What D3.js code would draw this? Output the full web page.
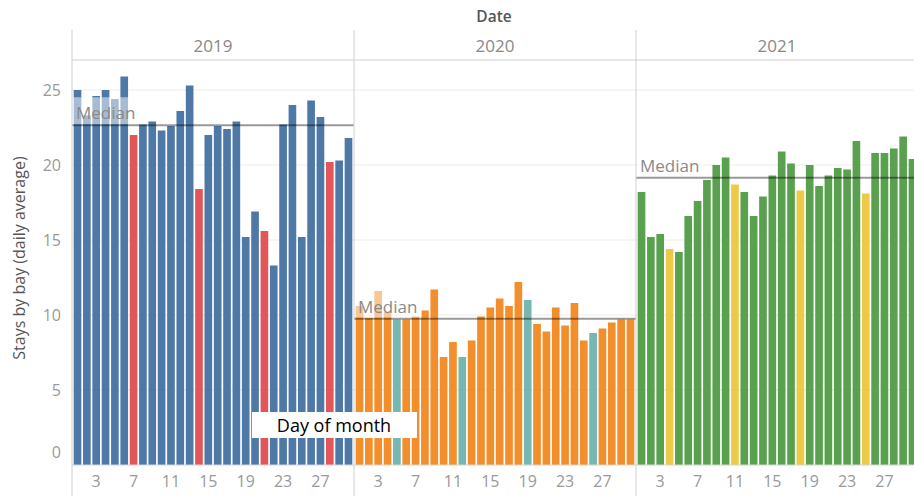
<!DOCTYPE html>
<html>
<head>
<meta charset="utf-8">
<script src="https://cdn.jsdelivr.net/npm/d3@7"></script>
<style>
  body { margin: 0; background: #fff; }
  svg { display: block; font-family: "Open Sans", Lato, sans-serif; }
</style>
</head>
<body>
<script>
// September, one panel per year, Saturdays highlighted
const years = ["2019", "2020", "2021"];
const days = d3.range(1, 31);
const saturdays2019 = [7, 14, 21, 28];
const saturdays2020 = [5, 12, 19, 26];
const saturdays2021 = [4, 11, 18, 25];

const stays2019 = [25.0, 23.3, 24.6, 25.0, 24.4, 25.9, 22.0, 22.7, 22.9, 22.3,
                   22.6, 23.6, 25.3, 18.4, 22.0, 22.6, 22.4, 22.9, 15.2, 16.9,
                   15.6, 13.3, 22.7, 24.0, 15.2, 24.3, 23.2, 20.2, 20.3, 21.8];
const stays2020 = [10.6, 9.8, 11.6, 10.2, 9.7, 9.7, 9.9, 10.3, 11.7, 7.2,
                   8.2, 7.2, 8.3, 9.9, 10.5, 11.1, 10.6, 12.2, 11.0, 9.4,
                   8.9, 10.5, 9.3, 10.8, 8.3, 8.8, 9.1, 9.5, 9.7, 9.7];
const stays2021 = [18.2, 15.2, 15.4, 14.4, 14.2, 16.6, 17.6, 19.0, 20.0, 20.5,
                   18.7, 18.2, 16.6, 17.9, 19.3, 20.9, 20.1, 18.3, 20.0, 18.6,
                   19.3, 19.8, 19.7, 21.6, 18.1, 20.8, 20.8, 21.1, 21.9, 20.4];

const baseColors = ["#4e79a7", "#f28e2b", "#59a14f"];
const satColors = ["#e15759", "#76b7b2", "#edc948"];
const yTicks = [0, 5, 10, 15, 20, 25];
const dayTicks = [3, 7, 11, 15, 19, 23, 27];

const panels = years.map((yr, i) => ({
  year: yr,
  values: [stays2019, stays2020, stays2021][i],
  sats: [saturdays2019, saturdays2020, saturdays2021][i],
  base: baseColors[i],
  sat: satColors[i]
}));

const width = 914, height = 496;
const plotLeft = 72, plotTop = 60, plotBottom = 465, panelW = 282;

const svg = d3.select("body").append("svg")
  .attr("width", width)
  .attr("height", height);

const xPanel = d3.scaleBand().domain(years).range([plotLeft, plotLeft + panelW * 3]);
const xDay = d3.scaleBand().domain(days).range([0, panelW]).padding(0.18);
const y = d3.scaleLinear().domain([0, 27]).range([plotBottom, plotTop]);

// gridlines
svg.append("g")
  .selectAll("line")
  .data(yTicks.filter(d => d > 0))
  .join("line")
    .attr("x1", plotLeft).attr("x2", width)
    .attr("y1", d => y(d)).attr("y2", d => y(d))
    .attr("stroke", "#ececec");

// bars
const panel = svg.selectAll("g.panel")
  .data(panels)
  .join("g")
    .attr("class", "panel")
    .attr("transform", d => `translate(${xPanel(d.year)},0)`);

panel.selectAll("rect.bar")
  .data(p => p.values.map((v, i) => ({ day: days[i], v, color: p.sats.includes(days[i]) ? p.sat : p.base })))
  .join("rect")
    .attr("class", "bar")
    .attr("x", d => xDay(d.day))
    .attr("width", xDay.bandwidth())
    .attr("y", d => y(d.v))
    .attr("height", d => y(0) - y(d.v))
    .attr("fill", d => d.color);

// median reference lines
panel.each(function(p) {
  const g = d3.select(this);
  const m = d3.median(p.values);
  g.append("rect")
    .attr("x", 0).attr("y", y(m) - 28)
    .attr("width", 68).attr("height", 27)
    .attr("fill", "#fff").attr("fill-opacity", 0.5);
  g.append("line")
    .attr("x1", 0).attr("x2", panelW)
    .attr("y1", y(m)).attr("y2", y(m))
    .attr("stroke", "#000").attr("stroke-opacity", 0.4)
    .attr("stroke-width", 2);
  g.append("text")
    .attr("x", 4).attr("y", y(m) - 6)
    .attr("fill", "#8a8a8a")
    .attr("font-size", 17)
    .text("Median");
});

// x axis (day of month) per panel
panel.append("g")
  .attr("transform", `translate(0,${plotBottom})`)
  .call(d3.axisBottom(xDay).tickValues(dayTicks).tickSize(0).tickPadding(11))
  .call(g => g.select(".domain").remove())
  .call(g => g.selectAll("text")
    .attr("fill", "#999")
    .attr("font-size", 16)
    .attr("font-family", "'Open Sans', sans-serif"));

// frame lines
svg.append("line")
  .attr("x1", plotLeft).attr("x2", width)
  .attr("y1", plotBottom).attr("y2", plotBottom)
  .attr("stroke", "#d4d4d4");
svg.append("line")
  .attr("x1", plotLeft).attr("x2", width)
  .attr("y1", plotTop).attr("y2", plotTop)
  .attr("stroke", "#d0d0d0");
svg.append("g")
  .selectAll("line")
  .data(years)
  .join("line")
    .attr("x1", d => xPanel(d)).attr("x2", d => xPanel(d))
    .attr("y1", 30).attr("y2", height)
    .attr("stroke", "#d0d0d0");

// year headers
svg.append("g")
  .selectAll("text")
  .data(years)
  .join("text")
    .attr("x", d => xPanel(d) + panelW / 2)
    .attr("y", 52)
    .attr("text-anchor", "middle")
    .attr("fill", "#888")
    .attr("font-size", 17)
    .text(d => d);

svg.append("text")
  .attr("x", 494).attr("y", 22)
  .attr("text-anchor", "middle")
  .attr("fill", "#555")
  .attr("font-size", 15.5)
  .attr("font-weight", 600)
  .text("Date");

// y axis labels
svg.append("g")
  .selectAll("text")
  .data(yTicks)
  .join("text")
    .attr("x", 61)
    .attr("y", d => d === 0 ? y(d) - 13 : y(d))
    .attr("dy", "0.35em")
    .attr("text-anchor", "end")
    .attr("fill", "#999")
    .attr("font-size", 16)
    .text(d => d);

svg.append("text")
  .attr("transform", "translate(25,258) rotate(-90)")
  .attr("text-anchor", "middle")
  .attr("fill", "#555")
  .attr("font-size", 16)
  .text("Stays by bay (daily average)");

// annotation box
svg.append("rect")
  .attr("x", 252).attr("y", 412)
  .attr("width", 165).attr("height", 26)
  .attr("fill", "#fff");
svg.append("text")
  .attr("x", 334).attr("y", 432)
  .attr("text-anchor", "middle")
  .attr("fill", "#000")
  .attr("font-size", 18)
  .attr("font-family", "'Open Sans', sans-serif")
  .text("Day of month");
</script>
</body>
</html>
